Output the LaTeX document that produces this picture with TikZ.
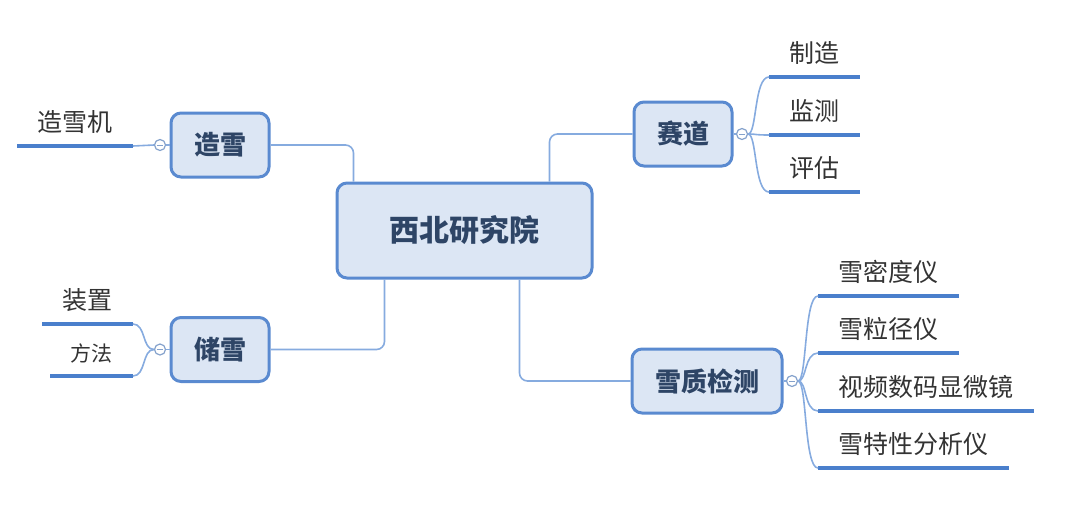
\documentclass[tikz,border=0pt]{standalone}
\usepackage{fontspec}
\setmainfont{Noto Sans CJK SC}
\definecolor{boxfill}{HTML}{DCE6F4}
\definecolor{boxline}{HTML}{5A8AD0}
\definecolor{boxtext}{HTML}{2E4566}
\definecolor{linkline}{HTML}{86ABDF}
\definecolor{leafline}{HTML}{4A7FCC}
\definecolor{leaftext}{HTML}{333333}

\begin{document}
\begin{tikzpicture}[x=0.5pt,y=-0.5pt,
  topic/.style={draw=boxline,line width=1.5pt,fill=boxfill,rounded corners=5pt,
    text=boxtext,font=\fontsize{13}{15}\selectfont\bfseries,
    minimum width=49pt,minimum height=32pt,inner sep=0pt},
  root/.style={topic,font=\fontsize{15}{18}\selectfont\bfseries,
    minimum width=127.5pt,minimum height=47.5pt},
  fold/.style={circle,draw=linkline!80!gray,line width=0.6pt,fill=white,
    minimum size=5.5pt,inner sep=0pt,
    path picture={\draw[linkline!80!gray,line width=0.5pt]
      ([xshift=1.3pt]path picture bounding box.west) --
      ([xshift=-1.3pt]path picture bounding box.east);}},
  leaf/.style={text=leaftext,font=\fontsize{12.5}{15}\selectfont,
    inner xsep=10pt,inner ysep=6pt},
  link/.style={draw=linkline,line width=0.8pt,rounded corners=4pt},
  under/.style={draw=leafline,line width=2pt}]
  \useasboundingbox (0,0) rectangle (1080,510);

  \node[root] (main) at (464.5,230.5) {西北研究院};

  \node[topic] (zx) at (220,145) {造雪};
  \node[topic] (cx) at (220,349.5) {储雪};
  \node[topic] (sd) at (683,134) {赛道};
  \node[topic,minimum width=75pt] (zj) at (707,381) {雪质检测};

  \draw[link] (zx.east) -| ([xshift=9pt]main.north west);
  \draw[link] (cx.east) -| ([xshift=24.5pt]main.south west);
  \draw[link] (sd.west) -| ([xshift=-22pt]main.north east);
  \draw[link] (zj.west) -| ([xshift=-37pt]main.south east);

  % fold buttons
  \node[fold] (zx-f) at (160,145) {};
  \node[fold] (cx-f) at (160,349.5) {};
  \node[fold] (sd-f) at (742,134) {};
  \node[fold] (zj-f) at (792,381) {};
  \draw[link] (zx-f) -- (zx.west);
  \draw[link] (cx-f) -- (cx.west);
  \draw[link] (sd-f) -- (sd.east);
  \draw[link] (zj-f) -- (zj.east);

  % left leaves
  \node[leaf,anchor=south east] (zx-1) at (133,146) {造雪机};
  \node[leaf,anchor=south east] (cx-1) at (133,324) {装置};
  \node[leaf,anchor=south east,font=\fontsize{10.5}{13}\selectfont] (cx-2) at (133,376) {方法};
  \foreach \n in {zx-1,cx-1,cx-2}
    \draw[under] (\n.south west) -- (\n.south east);
  \draw[link] (zx-f.west) -- (zx-1.south east);
  \draw[link] (cx-f.west) .. controls (142,349.5) and ([xshift=6.5pt]cx-1.south east) .. (cx-1.south east);
  \draw[link] (cx-f.west) .. controls (142,349.5) and ([xshift=6.5pt]cx-2.south east) .. (cx-2.south east);

  % right leaves
  \node[leaf,anchor=south west] (sd-1) at (769,77) {制造};
  \node[leaf,anchor=south west] (sd-2) at (769,135) {监测};
  \node[leaf,anchor=south west] (sd-3) at (769,192) {评估};
  \node[leaf,anchor=south west] (zj-1) at (818,296) {雪密度仪};
  \node[leaf,anchor=south west] (zj-2) at (818,353) {雪粒径仪};
  \node[leaf,anchor=south west] (zj-3) at (818,411) {视频数码显微镜};
  \node[leaf,anchor=south west] (zj-4) at (818,468) {雪特性分析仪};
  \foreach \n in {sd-1,sd-2,sd-3,zj-1,zj-2,zj-3,zj-4}
    \draw[under] (\n.south west) -- (\n.south east);
  \foreach \n in {sd-1,sd-2,sd-3}
    \draw[link] (sd-f.east) .. controls (757,134) and ([xshift=-7.5pt]\n.south west) .. (\n.south west);
  \foreach \n in {zj-1,zj-2,zj-3,zj-4}
    \draw[link] (zj-f.east) .. controls (807,381) and ([xshift=-7pt]\n.south west) .. (\n.south west);
\end{tikzpicture}
\end{document}
